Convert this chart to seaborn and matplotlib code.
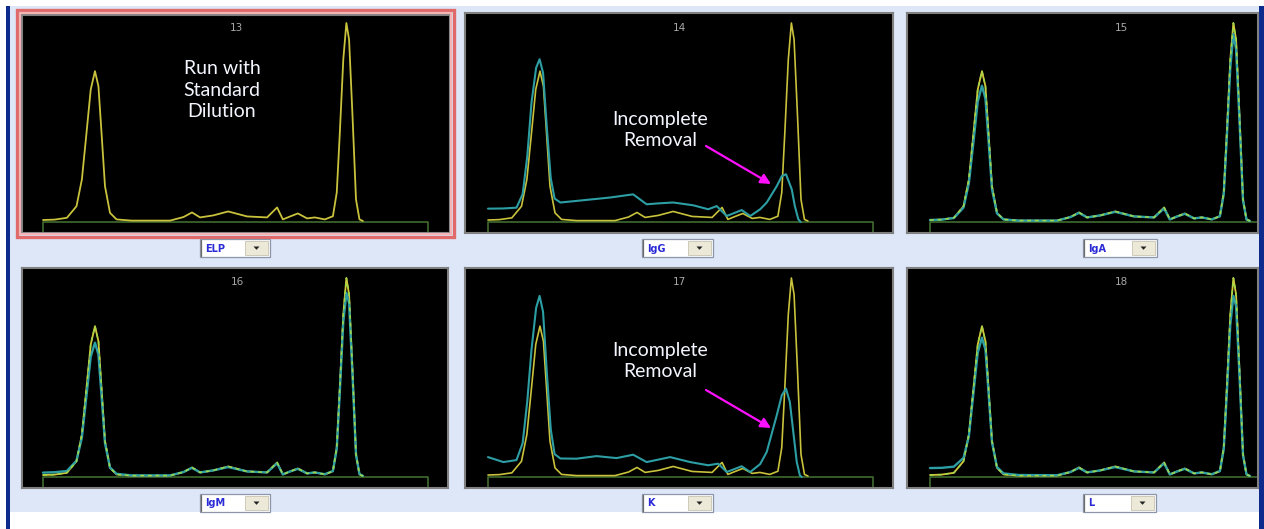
import matplotlib
matplotlib.use("Agg")
import matplotlib.pyplot as plt
from matplotlib.patches import Rectangle, Polygon
import seaborn as sns

# ---------------- data ----------------
panel_numbers = ["13", "14", "15", "16", "17", "18"]
fraction_labels = ["ELP", "IgG", "IgA", "IgM", "K", "L"]

# reference ELP trace (yellow), migration position 0-100, signal % of top peak
elp_pos = [0, 3, 6.2, 8.7, 10.1, 11.3, 12.4, 13.5, 14.4, 15.2, 16.1, 17.4, 19.1, 23, 33,
           36.5, 38.7, 40.8, 44.2, 48.1, 53, 58.2, 60.8, 62.3, 64.2, 66.2, 68.6, 70.6,
           73.2, 75.3, 76.3, 77.1, 78.0, 78.8, 79.5, 80.4, 81.3, 82.2, 83.1]
elp_signal = [1.0, 1.2, 2.1, 7.9, 21.4, 44.8, 66.6, 75.8, 68.2, 44.8, 18.0, 4.6, 1.3, 0.7, 0.7,
              2.5, 4.8, 2.3, 3.3, 5.3, 2.8, 2.3, 7.3, 1.3, 2.8, 4.3, 1.8, 2.3,
              1.3, 2.9, 14.8, 45.0, 81.7, 100.0, 91.7, 53.0, 11.3, 1.3, 0.5]

# IgG-removed trace (teal)
igg_pos = [0, 4, 7.4, 9.0, 10.2, 11.3, 12.5, 13.4, 14.3, 15.3, 16.3, 17.3, 18.8, 23.0, 31.7,
           37.7, 41.2, 44.6, 48.1, 53.3, 57.2, 59.4, 62.0, 65.9, 68.1, 70.7, 72.4, 75.0,
           76.3, 77.4, 78.9, 79.7, 80.6, 81.2]
igg_signal = [6.7, 6.8, 7.2, 14.0, 33.0, 60.0, 77.5, 81.8, 75.0, 47.0, 22.0, 11.8, 9.8, 10.6, 12.3,
              13.9, 8.9, 9.4, 9.8, 8.4, 6.4, 8.0, 3.0, 6.0, 3.0, 6.4, 9.8, 18.0,
              23.0, 24.0, 16.4, 8.0, 1.4, 0.0]

# IgA / IgM / L removed traces (teal), same positions as ELP
iga_signal = [1.0, 1.2, 2.0, 7.2, 19.5, 40.5, 60.5, 68.5, 62.0, 41.0, 16.5, 4.3, 1.3, 0.7, 0.7,
              2.5, 4.6, 2.3, 3.3, 5.1, 2.8, 2.3, 6.8, 1.3, 2.8, 4.1, 1.8, 2.3,
              1.3, 2.9, 14.0, 42.5, 77.5, 94.5, 87.0, 50.5, 11.0, 1.3, 0.5]
igm_signal = [2.2, 2.4, 3.0, 8.2, 19.8, 41.0, 60.5, 67.5, 61.5, 41.0, 17.0, 4.8, 1.6, 0.8, 0.8,
              2.5, 4.6, 2.3, 3.3, 5.0, 2.8, 2.3, 6.9, 1.3, 2.8, 4.1, 1.8, 2.3,
              1.4, 3.0, 14.2, 43.0, 78.0, 92.5, 87.5, 51.0, 11.2, 1.5, 0.6]
lambda_signal = [4.5, 4.6, 5.2, 9.6, 20.5, 42.5, 62.5, 70.0, 64.0, 42.5, 17.5, 5.0, 1.8, 1.0, 0.9,
                 2.5, 4.6, 2.3, 3.3, 5.0, 2.8, 2.3, 6.9, 1.3, 2.8, 4.1, 1.8, 2.3,
                 1.4, 3.0, 14.0, 42.0, 76.5, 91.0, 86.0, 50.5, 11.0, 1.4, 0.5]

# Kappa-removed trace (teal)
kappa_pos = [0, 4.0, 7.4, 9.0, 10.2, 11.3, 12.5, 13.4, 14.3, 15.3, 16.3, 17.3, 18.8, 23.0, 28.2,
             33.4, 37.7, 41.2, 47.3, 52.5, 57.2, 59.8, 62.0, 65.9, 68.1, 70.7, 72.4, 75.0,
             76.3, 77.4, 78.4, 79.3, 80.2, 81.0, 81.5]
kappa_signal = [10.0, 7.5, 8.5, 17.0, 38.0, 64.0, 85.0, 91.0, 83.0, 52.0, 24.0, 11.5, 9.3, 9.2, 10.5,
                9.5, 11.2, 7.5, 10.0, 7.5, 5.9, 6.7, 2.5, 5.4, 2.5, 6.5, 12.6, 31.0,
                41.0, 44.4, 37.7, 22.6, 7.5, 0.8, 0.0]

annotation_texts = ["Run with\nStandard\nDilution", "Incomplete\nRemoval", "Incomplete\nRemoval"]

# ---------------- figure ----------------
W, H = 1264, 529
sns.set_theme(style="white")
plt.rcParams["font.family"] = ["Lato", "DejaVu Sans"]

fig = plt.figure(figsize=(W / 100, H / 100), dpi=100, facecolor="white")


def px_axes(x0, y0, x1, y1, z):
    return fig.add_axes([x0 / W, 1 - y1 / H, (x1 - x0) / W, (y1 - y0) / H], zorder=z)


# background
bg = px_axes(0, 0, W, H, -10)
bg.set_xlim(0, W)
bg.set_ylim(H, 0)
bg.axis("off")
bg.add_patch(Rectangle((10, 6), 1249, 506, facecolor="#dde7f8", edgecolor="none"))
bg.add_patch(Rectangle((6, 6), 4, H - 6, facecolor="#0d2b8c", edgecolor="none"))
bg.add_patch(Rectangle((1259, 6), 5, H - 6, facecolor="#0d2b8c", edgecolor="none"))

# panel frames in pixels and baseline left offset
frames = [(22, 15, 450, 233), (465, 13, 893, 233), (907, 13, 1258, 233),
          (22, 268, 448, 488), (465, 268, 893, 488), (907, 268, 1258, 488)]
left_off = [21, 23, 23, 21, 23, 23]
px_per_x = 3.85
px_per_y = 1.99

teal_series = [None, (igg_pos, igg_signal), (elp_pos, iga_signal), (elp_pos, igm_signal),
               (kappa_pos, kappa_signal), (elp_pos, lambda_signal)]
overlapping = [False, False, True, True, False, True]

YEL = "#c9c23c"
TEAL = "#2c9ea4"
BASE = "#3f6a2e"

axes = []
for i, (x0, y0, x1, y1) in enumerate(frames):
    ax = px_axes(x0, y0, x1, y1, 1)
    axes.append(ax)
    ax.set_facecolor("black")
    w, h = x1 - x0, y1 - y0
    xmin = -left_off[i] / px_per_x
    xmax = (w - left_off[i]) / px_per_x
    ymin = -11 / px_per_y
    ymax = (h - 11) / px_per_y
    ax.set_xlim(xmin, xmax)
    ax.set_ylim(ymin, ymax)
    ax.set_xticks([])
    ax.set_yticks([])
    for s in ax.spines.values():
        s.set_color("#808080")
        s.set_linewidth(1.5)
        s.set_visible(True)
    # baseline integration box
    ax.plot([0, 0, 100, 100], [ymin, 0, 0, ymin], color=BASE, lw=1.2, zorder=1)

    if teal_series[i] is None:
        sns.lineplot(x=elp_pos, y=elp_signal, ax=ax, color=YEL, linewidth=1.3,
                     estimator=None, sort=False, zorder=3)
    elif overlapping[i]:
        tp, ts = teal_series[i]
        sns.lineplot(x=elp_pos, y=elp_signal, ax=ax, color="#d6c83a", linewidth=1.3,
                     estimator=None, sort=False, zorder=2)
        sns.lineplot(x=tp, y=ts, ax=ax, color=TEAL, linewidth=1.7,
                     estimator=None, sort=False, zorder=3)
        sns.lineplot(x=elp_pos, y=elp_signal, ax=ax, color="#9ed84a", linewidth=1.1,
                     estimator=None, sort=False, zorder=4, linestyle=(0, (2.5, 2.5)))
    else:
        tp, ts = teal_series[i]
        sns.lineplot(x=elp_pos, y=elp_signal, ax=ax, color=YEL, linewidth=1.2,
                     estimator=None, sort=False, zorder=2)
        sns.lineplot(x=tp, y=ts, ax=ax, color=TEAL, linewidth=1.5,
                     estimator=None, sort=False, zorder=3)
    ax.set_xlabel("")
    ax.set_ylabel("")

# overlay for decorations
ov = px_axes(0, 0, W, H, 10)
ov.set_xlim(0, W)
ov.set_ylim(H, 0)
ov.axis("off")
ov.patch.set_alpha(0)

# selected panel red frame
ov.add_patch(Rectangle((16.5, 9.5), 437, 227, facecolor="none", edgecolor="#e06a6a", lw=2.4))
ov.add_patch(Rectangle((19.5, 12.5), 431, 221, facecolor="none", edgecolor="#f2b4b4", lw=1.6))

# panel numbers
num_pos = [(236, 28), (679, 28), (1121, 28), (237, 282), (679, 282), (1121, 282)]
for (nx, ny), t in zip(num_pos, panel_numbers):
    ov.text(nx, ny, t, ha="center", va="center", fontsize=7.5, color="#a8a8a8",
            family=["DejaVu Sans"])

# dropdown selectors
dd = [(200, 239, 270, 257), (642, 239, 713, 257), (1083, 239, 1157, 257),
      (200, 494, 270, 512), (642, 494, 713, 512), (1083, 494, 1156, 512)]
for (bx0, by0, bx1, by1), lab in zip(dd, fraction_labels):
    ov.add_patch(Rectangle((bx0, by0), bx1 - bx0, by1 - by0, facecolor="white",
                           edgecolor="#8d96a8", lw=0.9))
    ov.plot([bx0 + 1, bx0 + 1], [by0 + 1, by1 - 1], color="#6a6a6a", lw=0.9)
    ov.add_patch(Rectangle((bx1 - 25, by0 + 2), 23, by1 - by0 - 4, facecolor="#ece9d8",
                           edgecolor="#c9c4b0", lw=0.6))
    cx, cy = bx1 - 13.5, (by0 + by1) / 2
    ov.add_patch(Polygon([(cx - 3, cy - 1.5), (cx + 3, cy - 1.5), (cx, cy + 1.8)],
                         closed=True, facecolor="#222222", edgecolor="none"))
    ov.text(bx0 + 5, cy + 0.5, lab, ha="left", va="center", fontsize=7, fontweight="bold",
            color="#2a2ad6", family=["DejaVu Sans"])

# annotations
txt_kw = dict(ha="center", va="center", fontsize=14, color="#f4f6ff", linespacing=1.3)
ov.text(222, 90, annotation_texts[0], **txt_kw)
ov.text(660, 130, annotation_texts[1], **txt_kw)
ov.text(660, 361, annotation_texts[2], **txt_kw)
arrow_kw = dict(arrowstyle="-|>", color="#ff10ff", lw=1.6, mutation_scale=15,
                shrinkA=0, shrinkB=0)
ov.annotate("", xy=(771, 184), xytext=(706, 146), arrowprops=arrow_kw)
ov.annotate("", xy=(771, 428), xytext=(706, 390), arrowprops=arrow_kw)

fig.savefig("out.png", dpi=100, facecolor="white")
